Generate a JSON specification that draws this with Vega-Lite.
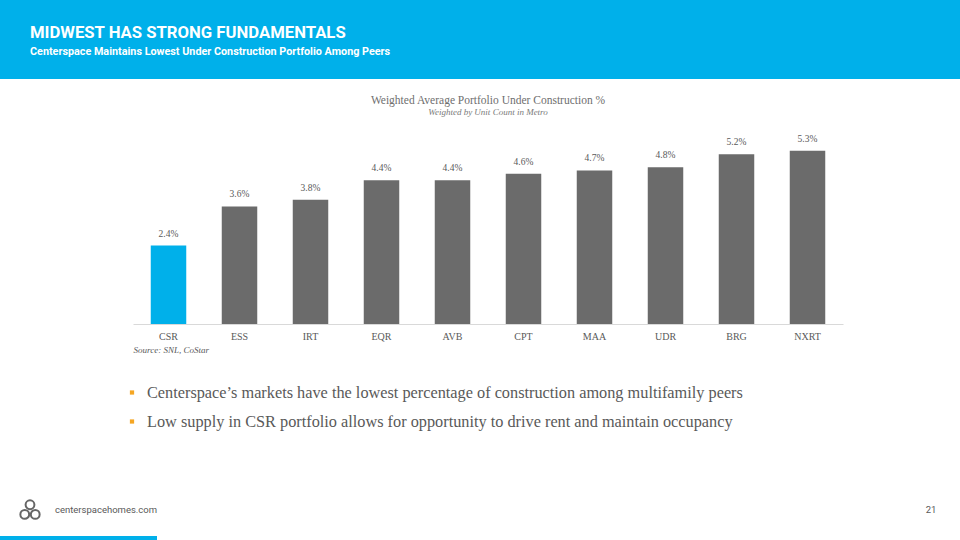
{
  "$schema": "https://vega.github.io/schema/vega-lite/v6.json",
  "padding": 0,
  "background": "white",
  "spacing": 0,
  "bounds": "flush",
  "config": {"view": {"stroke": null}, "font": "Liberation Serif"},
  "vconcat": [
    {
      "width": 960,
      "height": 79,
      "view": {"fill": "#00b0ea", "stroke": null},
      "data": {"values": []},
      "mark": "point",
      "title": {
        "text": "MIDWEST HAS STRONG FUNDAMENTALS",
        "subtitle": "Centerspace Maintains Lowest Under Construction Portfolio Among Peers",
        "anchor": "start",
        "frame": "group",
        "dx": 30,
        "offset": -57,
        "font": "Roboto",
        "fontSize": 16.7,
        "fontWeight": "bold",
        "color": "#ffffff",
        "subtitleFont": "Roboto",
        "subtitleFontSize": 10.8,
        "subtitleFontWeight": "bold",
        "subtitleColor": "#ffffff",
        "subtitlePadding": 5
      }
    },
    {"width": 1, "height": 49, "data": {"values": []}, "mark": "point"},
    {
      "bounds": "flush",
      "spacing": 0,
      "hconcat": [
        {"width": 133, "height": 196, "data": {"values": []}, "mark": "point"},
        {
          "width": 710,
          "height": 196,
          "data": {
            "values": [
              {"ticker": "CSR", "value": 0.024},
              {"ticker": "ESS", "value": 0.036},
              {"ticker": "IRT", "value": 0.038},
              {"ticker": "EQR", "value": 0.044},
              {"ticker": "AVB", "value": 0.044},
              {"ticker": "CPT", "value": 0.046},
              {"ticker": "MAA", "value": 0.047},
              {"ticker": "UDR", "value": 0.048},
              {"ticker": "BRG", "value": 0.052},
              {"ticker": "NXRT", "value": 0.053}
            ]
          },
          "title": {
            "text": "Weighted Average Portfolio Under Construction %",
            "subtitle": "Weighted by Unit Count in Metro",
            "anchor": "middle",
            "font": "Liberation Serif",
            "fontSize": 11.5,
            "fontWeight": "normal",
            "color": "#6e6e6e",
            "subtitleFont": "Liberation Serif",
            "subtitleFontSize": 9,
            "subtitleFontStyle": "italic",
            "subtitleColor": "#7a7a7a",
            "subtitlePadding": 2,
            "offset": 11
          },
          "encoding": {
            "x": {
              "field": "ticker",
              "type": "nominal",
              "sort": null,
              "scale": {"paddingInner": 0.5, "paddingOuter": 0.25},
              "axis": {
                "title": "Source: SNL, CoStar",
                "titleFont": "Liberation Serif",
                "titleFontStyle": "italic",
                "titleFontWeight": "normal",
                "titleFontSize": 9,
                "titleColor": "#595959",
                "titleAnchor": "start",
                "titlePadding": 4,
                "labelAngle": 0,
                "labelFont": "Liberation Serif",
                "labelFontSize": 10,
                "labelColor": "#595959",
                "labelPadding": 7,
                "ticks": false,
                "domainColor": "#d9d9d9",
                "domainWidth": 1,
                "grid": false
              }
            },
            "y": {
              "field": "value",
              "type": "quantitative",
              "scale": {"domain": [0, 0.06]},
              "axis": null
            }
          },
          "layer": [
            {
              "mark": {"type": "bar"},
              "encoding": {
                "color": {
                  "condition": {"test": "datum.ticker === 'CSR'", "value": "#00b0ea"},
                  "value": "#6b6b6b"
                }
              }
            },
            {
              "mark": {"type": "text", "dy": -7, "baseline": "bottom", "font": "Liberation Serif", "fontSize": 9.5, "color": "#595959"},
              "encoding": {"text": {"field": "value", "type": "quantitative", "format": ".1%"}}
            }
          ]
        }
      ]
    },
    {"width": 1, "height": 250, "data": {"values": []}, "mark": "point"},
    {
      "bounds": "flush",
      "spacing": 0,
      "hconcat": [
        {"width": 132, "height": 58, "data": {"values": []}, "mark": "point"},
        {
          "width": 720,
          "height": 58,
          "data": {
            "values": [
              {"n": 1, "text": "Centerspace’s markets have the lowest percentage of construction among multifamily peers"},
              {"n": 2, "text": "Low supply in CSR portfolio allows for opportunity to drive rent and maintain occupancy"}
            ]
          },
          "encoding": {
            "y": {"field": "n", "type": "ordinal", "axis": null},
            "x": {"datum": 0, "type": "quantitative", "scale": {"domain": [0, 1]}, "axis": null}
          },
          "layer": [
            {"mark": {"type": "square", "size": 18, "filled": true, "opacity": 1, "color": "#f5a623"}},
            {
              "mark": {"type": "text", "align": "left", "baseline": "middle", "dx": 15, "font": "Liberation Serif", "fontSize": 16.3, "color": "#595959"},
              "encoding": {"text": {"field": "text"}}
            }
          ]
        }
      ]
    },
    {"width": 1, "height": 121, "data": {"values": []}, "mark": "point"},
    {
      "bounds": "flush",
      "spacing": 0,
      "hconcat": [
        {"width": 19, "height": 22, "data": {"values": []}, "mark": "point"},
        {
          "width": 22,
          "height": 22,
          "data": {"values": [{"name": "Centerspace"}]},
          "mark": {
            "type": "point",
            "shape": "M -0.42 -0.5 A 0.42 0.42 0 1 0 0.42 -0.5 A 0.42 0.42 0 1 0 -0.42 -0.5 Z M -0.92 0.42 A 0.42 0.42 0 1 0 -0.08 0.42 A 0.42 0.42 0 1 0 -0.92 0.42 Z M 0.08 0.42 A 0.42 0.42 0 1 0 0.92 0.42 A 0.42 0.42 0 1 0 0.08 0.42 Z",
            "size": 440,
            "filled": false,
            "stroke": "#666666",
            "strokeWidth": 2,
            "opacity": 1
          }
        },
        {"width": 14, "height": 22, "data": {"values": []}, "mark": "point"},
        {
          "width": 102,
          "height": 22,
          "data": {"values": [{"label": "centerspacehomes.com"}]},
          "mark": {"type": "text", "font": "Roboto", "fontSize": 9.5, "color": "#595959", "baseline": "middle", "align": "center"},
          "encoding": {"text": {"field": "label"}}
        },
        {"width": 764, "height": 22, "data": {"values": []}, "mark": "point"},
        {
          "width": 20,
          "height": 22,
          "data": {"values": [{"label": "21"}]},
          "mark": {"type": "text", "font": "Roboto", "fontSize": 9.5, "color": "#595959", "baseline": "middle", "align": "center"},
          "encoding": {"text": {"field": "label"}}
        }
      ]
    },
    {"width": 1, "height": 37, "data": {"values": []}, "mark": "point"},
    {
      "width": 157,
      "height": 4,
      "view": {"fill": "#00b0ea", "stroke": null},
      "data": {"values": []},
      "mark": "point"
    }
  ]
}
